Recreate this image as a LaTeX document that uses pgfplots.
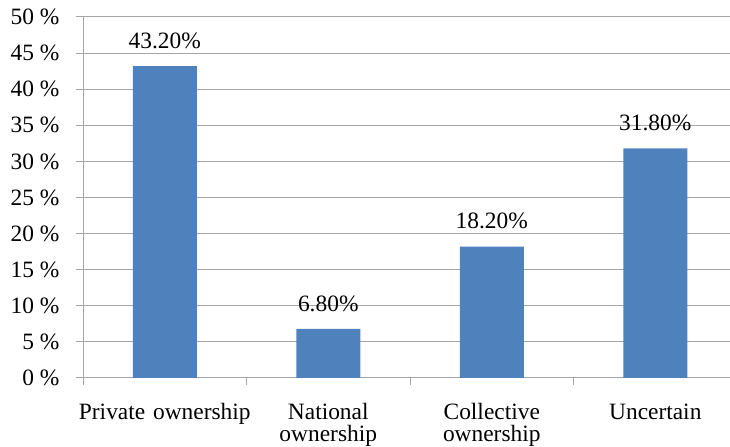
\documentclass[border=0pt]{standalone}
\usepackage{pgfplots}
\pgfplotsset{compat=1.18}
\usepackage{fontspec}
\setmainfont{Liberation Serif}
\definecolor{barblue}{HTML}{4F81BD}
\definecolor{gridgray}{HTML}{A6A6A6}
\begin{document}
\begin{tikzpicture}[x=1bp,y=1bp]
\useasboundingbox (0,0) rectangle (730,447);
\begin{axis}[
    at={(83bp,69bp)}, anchor=south west,
    scale only axis,
    width=647bp, height=361bp,
    xmin=-0.5, xmax=3.457,
    ymin=0, ymax=50,
    axis lines*=left,
    axis line style={gridgray, line width=1bp},
    ytick={0,5,...,50},
    yticklabels={0 \%,5 \%,10 \%,15 \%,20 \%,25 \%,30 \%,35 \%,40 \%,45 \%,50 \%},
    ymajorgrids=true,
    grid style={gridgray, line width=1bp},
    tick align=outside,
    major tick length=7bp,
    minor tick length=7bp,
    tick style={gridgray, line width=1bp},
    xtick={0,1,2,3},
    xticklabels={Private ownership, {National\\ownership}, {Collective\\ownership}, Uncertain},
    xtick style={draw=none},
    minor xtick={-0.5,0.5,1.5,2.5},
    minor x tick style={draw=gridgray},
    xticklabel style={text width=190bp, align=center, anchor=north, yshift=-15bp,
        font=\fontsize{23.5}{22}\selectfont},
    yticklabel style={font=\fontsize{23.5}{23.5}\selectfont, xshift=-13bp},
    /pgf/number format/assume math mode=true,
    nodes near coords={\pgfmathprintnumber[fixed,fixed zerofill,precision=2]{\pgfplotspointmeta}\%},
    every node near coord/.append style={font=\fontsize{23.5}{23.5}\selectfont, black, yshift=14bp},
    clip=false,
]
\addplot[ybar, bar width=64bp, fill=barblue, draw=none] coordinates {
    (0,43.2) (1,6.8) (2,18.2) (3,31.8)
};
\end{axis}
\end{tikzpicture}
\end{document}
